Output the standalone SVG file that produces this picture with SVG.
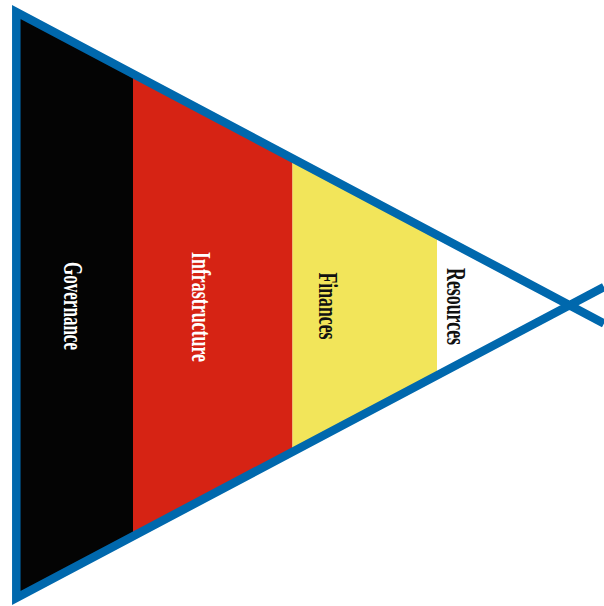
<svg xmlns="http://www.w3.org/2000/svg" width="604" height="606" viewBox="0 0 604 606">
  <style>
    .lbl { font-family: "Liberation Serif", "DejaVu Serif", serif; font-weight: bold; font-size: 28px; text-anchor: middle; }
    .light { fill: #ffffff; }
    .dark { fill: #111111; }
    .edge { fill: none; stroke: #0068ad; stroke-width: 8.5; stroke-linejoin: miter; }
  </style>
  <defs>
    <clipPath id="tri">
      <polygon points="16.3,12 16.3,598 569.7,305.3"/>
    </clipPath>
  </defs>
  <rect width="604" height="606" fill="#ffffff"/>
  <g clip-path="url(#tri)">
    <g id="governance">
      <rect x="0" y="0" width="133" height="606" fill="#040404"/>
      <text class="lbl light" transform="translate(64,306) rotate(90)" textLength="88" lengthAdjust="spacingAndGlyphs">Governance</text>
    </g>
    <g id="infrastructure">
      <rect x="133" y="0" width="159.5" height="606" fill="#d62314"/>
      <text class="lbl light" transform="translate(192,307) rotate(90)" textLength="110" lengthAdjust="spacingAndGlyphs">Infrastructure</text>
    </g>
    <g id="finances">
      <rect x="292.5" y="0" width="144.5" height="606" fill="#f2e55a"/>
      <text class="lbl dark" transform="translate(319,306) rotate(90)" textLength="67" lengthAdjust="spacingAndGlyphs">Finances</text>
    </g>
    <g id="resources">
      <rect x="437" y="0" width="167" height="606" fill="#ffffff"/>
      <text class="lbl dark" transform="translate(447,306.5) rotate(90)" textLength="77" lengthAdjust="spacingAndGlyphs">Resources</text>
    </g>
  </g>
  <g id="connectors">
    <path class="edge" d="M604,323.5 L16.3,12 L16.3,598 L604,287"/>
  </g>
</svg>
